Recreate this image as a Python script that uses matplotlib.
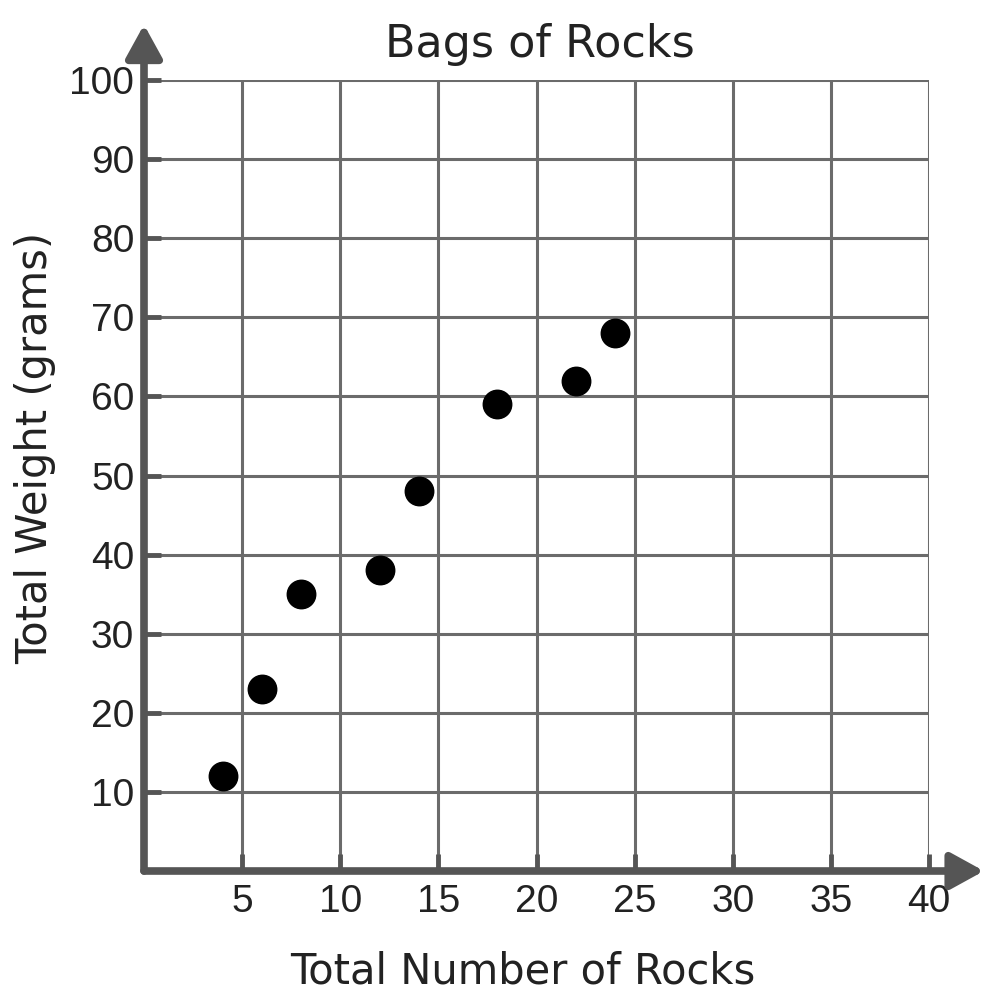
import matplotlib.pyplot as plt

rocks = [4, 6, 8, 12, 14, 18, 22, 24]
weight = [12, 23, 35, 38, 48, 59, 62, 68]
x_ticks = [5, 10, 15, 20, 25, 30, 35, 40]
y_ticks = [10, 20, 30, 40, 50, 60, 70, 80, 90, 100]

plt.rcParams['font.family'] = ['Liberation Sans', 'DejaVu Sans']

axis_col = '#555555'
grid_col = '#6b6b6b'
text_col = '#222222'

fig = plt.figure(figsize=(9.91, 10.08), dpi=100)
ax = fig.add_axes([144 / 991, 1 - 871 / 1008, 785 / 991, 791 / 1008])
ax.set_xlim(0, 40)
ax.set_ylim(0, 100)

ax.set_xticks(x_ticks)
ax.set_yticks(y_ticks)
ax.grid(True, color=grid_col, lw=2.2)
ax.set_axisbelow(True)
for s in ax.spines.values():
    s.set_visible(False)
ax.tick_params(direction='in', length=12, width=3.5, color=axis_col,
               labelsize=28, labelcolor=text_col)
ax.tick_params(axis='x', pad=9)
ax.tick_params(axis='y', pad=7)

# axes with arrow heads
arrow = dict(arrowstyle='-|>,head_length=1.0,head_width=0.55', color=axis_col,
             lw=5.5, mutation_scale=20, shrinkA=0, shrinkB=0)
ax.annotate('', xy=(0, 107), xytext=(0, 0), arrowprops=arrow,
            annotation_clip=False)
ax.annotate('', xy=(42.8, 0), xytext=(0, 0), arrowprops=arrow,
            annotation_clip=False)

ax.scatter(rocks, weight, s=420, color='black', zorder=5, clip_on=False)

wide = ['DejaVu Sans']
ax.text(0.504, 1 + 23 / 791, 'Bags of Rocks', transform=ax.transAxes,
        ha='center', va='baseline', fontsize=32, color=text_col, family=wide)
ax.set_xlabel('Total Number of Rocks', fontsize=30, color=text_col, family=wide)
ax.xaxis.set_label_coords(0.482, -0.100)
ax.set_ylabel('Total Weight (grams)', fontsize=30, color=text_col, family=wide)
ax.yaxis.set_label_coords(-0.112, 0.535)

fig.savefig('out.png', dpi=100)
